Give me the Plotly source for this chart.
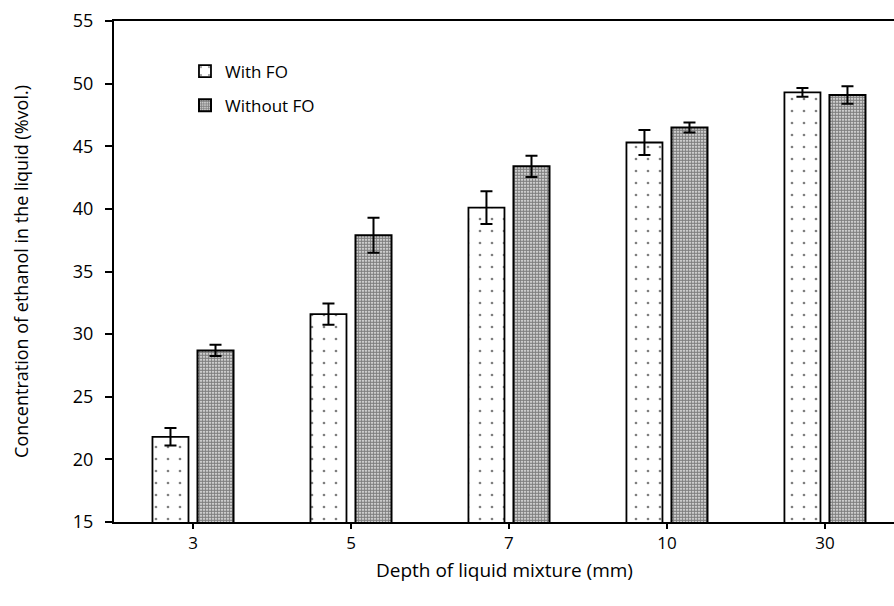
import plotly.graph_objects as go

# Depth of the liquid mixture (mm) and ethanol concentration in the liquid (%vol.)
depths = ["3", "5", "7", "10", "30"]
with_fo = [21.8, 31.6, 40.1, 45.3, 49.3]
with_fo_err = [0.7, 0.85, 1.3, 1.0, 0.35]
without_fo = [28.7, 37.9, 43.4, 46.5, 49.1]
without_fo_err = [0.45, 1.4, 0.85, 0.4, 0.7]
y_ticks = [15, 20, 25, 30, 35, 40, 45, 50, 55]

FONT = "Open Sans"
x_pos = list(range(len(depths)))

fig = go.Figure()
fig.add_trace(go.Bar(
    name="With FO", x=x_pos, y=with_fo, legendgroup="a",
    marker=dict(color="white", line=dict(color="black", width=1.8),
                pattern=dict(shape=".", fgcolor="black", bgcolor="white",
                             size=12, solidity=0.04)),
    error_y=dict(type="data", array=with_fo_err, color="black",
                 thickness=2, width=6),
))
fig.add_trace(go.Bar(
    name="Without FO", x=x_pos, y=without_fo, legendgroup="b",
    marker=dict(color="white", line=dict(color="black", width=2),
                pattern=dict(shape=".", fgcolor="black", bgcolor="white",
                             size=3, solidity=0.72)),
    error_y=dict(type="data", array=without_fo_err, color="black",
                 thickness=2, width=6),
))

fig.update_layout(
    width=894, height=606,
    margin=dict(l=114, r=0, t=21, b=84),
    paper_bgcolor="white", plot_bgcolor="white",
    barmode="group", bargap=0.43, bargroupgap=0.2,
    font=dict(family=FONT, size=16, color="#000"),
    showlegend=True,
    legend=dict(x=0.091, y=0.935, xanchor="left", yanchor="top",
                bgcolor="rgba(0,0,0,0)", font=dict(size=17, family=FONT),
                tracegroupgap=9),
    xaxis=dict(
        range=[-0.5, 4.437], tickmode="array", tickvals=x_pos, ticktext=depths,
        showline=True, linecolor="black", linewidth=2, mirror=True,
        ticks="outside", ticklen=5, tickwidth=1.5, tickcolor="black",
        ticklabelstandoff=0,
        showgrid=False, zeroline=False,
        tickfont=dict(size=17, family=FONT),
    ),
    yaxis=dict(
        range=[15, 55], tickvals=y_ticks,
        showline=True, linecolor="black", linewidth=2,
        ticks="outside", ticklen=7, tickwidth=1.5, tickcolor="black",
        ticklabelstandoff=8,
        showgrid=False, zeroline=False,
        tickfont=dict(size=18, family=FONT),
        title=dict(text="Concentration of ethanol in the liquid (%vol.)",
                   font=dict(size=18, family=FONT), standoff=40),
    ),
    annotations=[dict(
        text="Depth of liquid mixture (mm)", showarrow=False,
        xref="paper", yref="paper", x=(504 - 114) / 780, y=-(570 - 522) / 501,
        xanchor="center", yanchor="middle",
        font=dict(size=19, family=FONT, color="#000"),
    )],
)

fig.write_html("out.html")
